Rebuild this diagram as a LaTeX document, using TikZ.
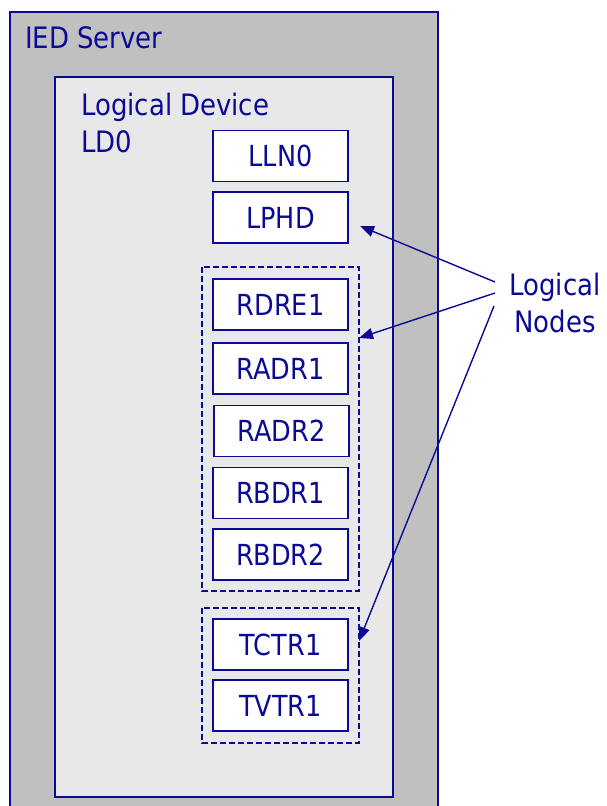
\documentclass[tikz,border=0pt]{standalone}
\usepackage{fontspec}
\setmainfont{DejaVu Sans}[FakeStretch=0.88]
\usetikzlibrary{arrows.meta}
\definecolor{ink}{RGB}{10,10,150}
\definecolor{servergrey}{RGB}{192,192,192}
\definecolor{devgrey}{RGB}{232,232,232}
\tikzset{
  lnbox/.style={draw=ink, line width=1.4pt, fill=white, minimum width=135pt,
    minimum height=51pt, inner sep=0pt, text=ink, font=\fontsize{29}{34}\selectfont},
  grp/.style={draw=ink, line width=1.2pt, dash pattern=on 6pt off 3pt},
  lbl/.style={text=ink, font=\fontsize{29.5}{36.5}\selectfont, inner sep=0pt},
  pointer/.style={draw=ink, line width=1.4pt, -{Triangle[length=14pt,width=11pt]}}
}
\begin{document}
\begin{tikzpicture}[x=1pt,y=-1pt]
  \useasboundingbox (0,0) rectangle (606,806);
  \clip (0,0) rectangle (606,806);
  % server and logical device frames
  \draw[ink, line width=1.3pt, fill=servergrey] (10,12) rectangle (438,815);
  \draw[ink, line width=1.3pt, fill=devgrey] (55,77) rectangle (393,797);
  \node[lbl, anchor=base west] (srv) at (25,48) {IED Server};
  % the base anchor of a two-line node sits on its last line
  \node[lbl, anchor=base west, align=left] (ld) at (81,152) {Logical Device\\LD0};
  % logical node groups
  \draw[grp] (202,267) rectangle (359,591);
  \draw[grp] (202,608) rectangle (359,743);
  % logical nodes
  \node[lnbox] (lln0) at (280.5,156) {LLN0};
  \node[lnbox] (lphd) at (280.5,217.5) {LPHD};
  \node[lnbox] (rdre1) at (280.5,304.5) {RDRE1};
  \node[lnbox] (radr1) at (280.5,368.5) {RADR1};
  \node[lnbox] (radr2) at (281.5,431) {RADR2};
  \node[lnbox] (rbdr1) at (280.5,493) {RBDR1};
  \node[lnbox] (rbdr2) at (280.5,554.5) {RBDR2};
  \node[lnbox] (tctr1) at (280.5,644.5) {TCTR1};
  \node[lnbox] (tvtr1) at (280.5,705.5) {TVTR1};
  % caption and pointers
  \node[lbl, align=center, anchor=base] (lncap) at (555,332) {Logical\\Nodes};
  \coordinate (s1) at (495,282);
  \coordinate (s2) at (495,293);
  \coordinate (s3) at (494,306);
  \coordinate (t1) at (360,226);
  \coordinate (t2) at (359,338);
  \coordinate (t3) at (359,641);
  \draw[pointer] (s1) -- (t1);
  \draw[pointer] (s2) -- (t2);
  \draw[pointer] (s3) -- (t3);
\end{tikzpicture}
\end{document}
